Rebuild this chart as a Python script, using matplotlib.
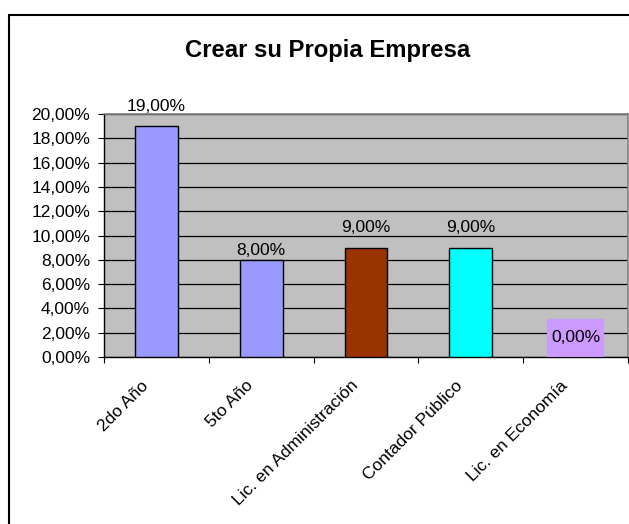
import matplotlib
matplotlib.use('Agg')
import matplotlib.pyplot as plt
from matplotlib.patches import Rectangle
from matplotlib.ticker import FuncFormatter, MultipleLocator
from matplotlib.transforms import ScaledTranslation

plt.rcParams['font.family'] = ['Liberation Sans', 'DejaVu Sans']

categories = ['2do Año', '5to Año', 'Lic. en Administración', 'Contador Público', 'Lic. en Economía']
values = [19.0, 8.0, 9.0, 9.0, 0.0]
colors = ['#9999FF', '#9999FF', '#993300', '#00FFFF', '#CC99FF']
label_gap = [11, 3.5, 11, 11, 0]   # points between bar top and label baseline
title = 'Crear su Propia Empresa'

W, H = 629, 524
fig = plt.figure(figsize=(W / 100, H / 100), dpi=100)
fig.patch.set_facecolor('white')

# outer chart border (right and bottom run off the picture)
fig.patches.append(Rectangle((9 / W, -0.05), 1.0, 1 - 15 / H + 0.05,
                             transform=fig.transFigure, fill=False,
                             edgecolor='black', lw=1.5, zorder=0))

ax = fig.add_axes([104 / W, 1 - 357 / H, 524 / W, 243 / H])
ax.set_facecolor('#C0C0C0')

x = range(len(categories))
ax.bar(x, values, width=0.41, color=colors, edgecolor='black', lw=1.0, zorder=3)

ax.set_xlim(-0.5, len(categories) - 0.5)
ax.set_ylim(0, 20)
ax.yaxis.set_major_locator(MultipleLocator(2))
ax.yaxis.set_major_formatter(FuncFormatter(lambda v, p: f'{v:.2f}%'.replace('.', ',')))
ax.grid(axis='y', color='black', lw=0.9, zorder=1)

# category ticks sit between bars, labels at centres
ax.set_xticks([i - 0.5 for i in range(len(categories) + 1)])
ax.set_xticklabels([])
ax.set_xticks(list(x), minor=True)
ax.set_xticklabels(categories, minor=True, rotation=45, ha='right',
                   rotation_mode='anchor', fontsize=12.5)
ax.tick_params(axis='x', which='minor', length=0, pad=15)
ax.tick_params(axis='x', which='major', length=4, direction='out', color='black')
ax.tick_params(axis='y', length=4, direction='out', labelsize=12.5, pad=6)
shift = ScaledTranslation(-0.16, 0, fig.dpi_scale_trans)
for lab in ax.get_xticklabels(minor=True):
    lab.set_transform(lab.get_transform() + shift)

for s in ['top', 'right']:
    ax.spines[s].set_color('#808080')
    ax.spines[s].set_linewidth(1.2)
for s in ['left', 'bottom']:
    ax.spines[s].set_color('black')
    ax.spines[s].set_linewidth(1.0)

for i, v in enumerate(values):
    lbl = f'{v:.2f}%'.replace('.', ',')
    if v == 0:
        ax.add_patch(Rectangle((i - 0.272, 0), 0.544, 3.1, facecolor='#CC99FF',
                               edgecolor='none', zorder=4))
        ax.text(i, 1.6, lbl, ha='center', va='center', fontsize=12.5, zorder=5)
    else:
        ax.annotate(lbl, (i, v), xytext=(0, label_gap[i]), textcoords='offset points',
                    ha='center', va='baseline', fontsize=12.5, zorder=5)

fig.text(328 / W, 1 - 57 / H, title, ha='center', va='baseline',
         fontsize=17.2, fontweight='bold')

fig.savefig('out.png', dpi=100)
